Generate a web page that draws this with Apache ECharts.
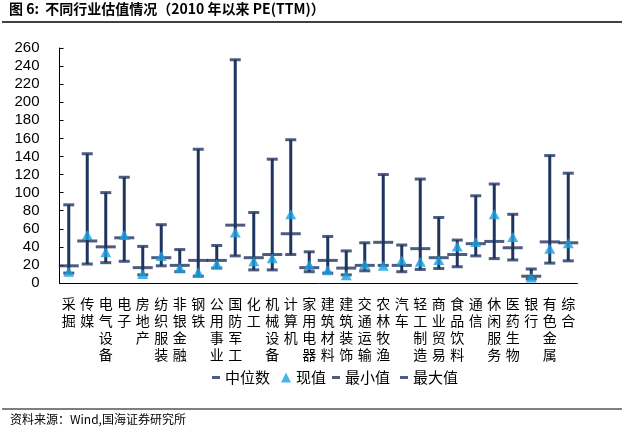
<!DOCTYPE html>
<html>
<head>
<meta charset="utf-8">
<script src="https://cdn.jsdelivr.net/npm/echarts@6/dist/echarts.min.js"></script>
<style>
html,body{margin:0;padding:0;background:#fff;}
#c{width:625px;height:433px;}
</style>
</head>
<body>
<div id="c"></div>
<script>
var categories = ['采掘','传媒','电气设备','电子','房地产','纺织服装','非银金融','钢铁','公用事业','国防军工','化工','机械设备','计算机','家用电器','建筑材料','建筑装饰','交通运输','农林牧渔','汽车','轻工制造','商业贸易','食品饮料','通信','休闲服务','医药生物','银行','有色金属','综合'];
var medianVals = [19,46.5,40,50,17,28,19.5,25,25,64,28,31.5,54.5,17,25,16.5,19.5,45,19.5,38,28,31.5,43.5,46,39,7.5,45.5,44.5];
var currentVals = [12.5,53,34,53,10,30,17,12,21,56,24,27.5,76,20,14,8.5,20.5,19,25,23.5,25.5,40.5,45.5,76,51,6,38,44];
var minVals = [11,21,22.5,24,9,19,12.5,7.5,16.5,30,14.5,14.5,31.5,12.5,11,9,13.5,19.5,12.5,15,16,18,30,27,25.5,4.5,22,24.5];
var maxVals = [86.5,143,100,117,40.5,64.5,37,148,41.5,247,78,137,158.5,34.5,51.5,35.5,44.5,120,42,115,72.5,47.5,96.5,109.5,76,15.5,141,121.5];
var yTicks = {min:0, max:260, interval:20};

var navy = '#1F3560';
var sky = '#1AA0E0';
var cjk = '"Noto Sans CJK SC", sans-serif';

var chart = echarts.init(document.getElementById('c'), null, {renderer:'canvas'});
var rangeData = categories.map(function(c,i){ return [i, minVals[i], maxVals[i]]; });

var legendText = {fontFamily: cjk, fontSize: 15, color: '#000'};
chart.setOption({
  animation: false,
  backgroundColor: '#fff',
  grid: {left: 59.5, right: 47.5, top: 48, bottom: 150, containLabel: false},
  graphic: [
    {type:'text', left: 9, top: 2, style:{text:'图 6:  不同行业估值情况（2010 年以来 PE(TTM)）', font:'bold 14px "Noto Sans CJK SC", sans-serif', fill:'#000'}},
    {type:'line', shape:{x1:2, y1:22, x2:622, y2:22}, style:{stroke:'#000', lineWidth:1.5}},
    {type:'line', shape:{x1:2, y1:409, x2:622, y2:409}, style:{stroke:'#000', lineWidth:1.2}},
    {type:'text', left: 10, top: 413, style:{text:'资料来源：Wind,国海证券研究所', font:'12px "Noto Sans CJK SC", sans-serif', fill:'#000'}}
  ],
  legend: [
    {data:['中位数'], left: 207, top: 365, icon:'rect', itemWidth:8, itemHeight:3, itemGap:8, textStyle: legendText, selectedMode:false},
    {data:['现值'], left: 276, top: 365, icon:'triangle', itemWidth:10, itemHeight:10, textStyle: legendText, selectedMode:false},
    {data:['最小值','最大值'], left: 327, top: 365, icon:'rect', itemWidth:8, itemHeight:3, itemGap:10, textStyle: legendText, selectedMode:false}
  ],
  xAxis: {
    type:'category', data: categories, boundaryGap: true,
    axisLine:{lineStyle:{color:'#000', width:1}},
    axisTick:{inside:true, length:4, lineStyle:{color:'#000'}},
    axisLabel:{interval:0, margin:12, color:'#000', fontFamily: cjk, fontSize:14, lineHeight:17,
      formatter:function(v){ return v.split('').join('\n'); }}
  },
  yAxis: {
    type:'value', min: yTicks.min, max: yTicks.max, interval: yTicks.interval,
    splitLine:{show:false},
    axisLine:{show:true, lineStyle:{color:'#000', width:1}},
    axisTick:{show:true, inside:true, length:4, lineStyle:{color:'#000'}},
    axisLabel:{margin:20, color:'#000', fontFamily:'"Liberation Sans", Arial, sans-serif', fontSize:15}
  },
  series: [
    {type:'custom', name:'range', data: rangeData, silent:true, z:1,
      encode:{x:0, y:[1,2]},
      renderItem:function(params, api){
        var lo = api.coord([api.value(0), api.value(1)]);
        var hi = api.coord([api.value(0), api.value(2)]);
        return {type:'line', shape:{x1:lo[0], y1:lo[1], x2:hi[0], y2:hi[1]}, style:{stroke:navy, lineWidth:3}};
      }},
    {type:'scatter', name:'中位数', data: medianVals, symbol:'rect', symbolSize:[20,3], itemStyle:{color:navy}, z:2},
    {type:'scatter', name:'最小值', data: minVals, symbol:'rect', symbolSize:[11,3], itemStyle:{color:navy}, z:2},
    {type:'scatter', name:'最大值', data: maxVals, symbol:'rect', symbolSize:[11,3], itemStyle:{color:navy}, z:2},
    {type:'scatter', name:'现值', data: currentVals, symbol:'triangle', symbolSize:[11,10], itemStyle:{color:sky}, z:3}
  ]
});
</script>
</body>
</html>
